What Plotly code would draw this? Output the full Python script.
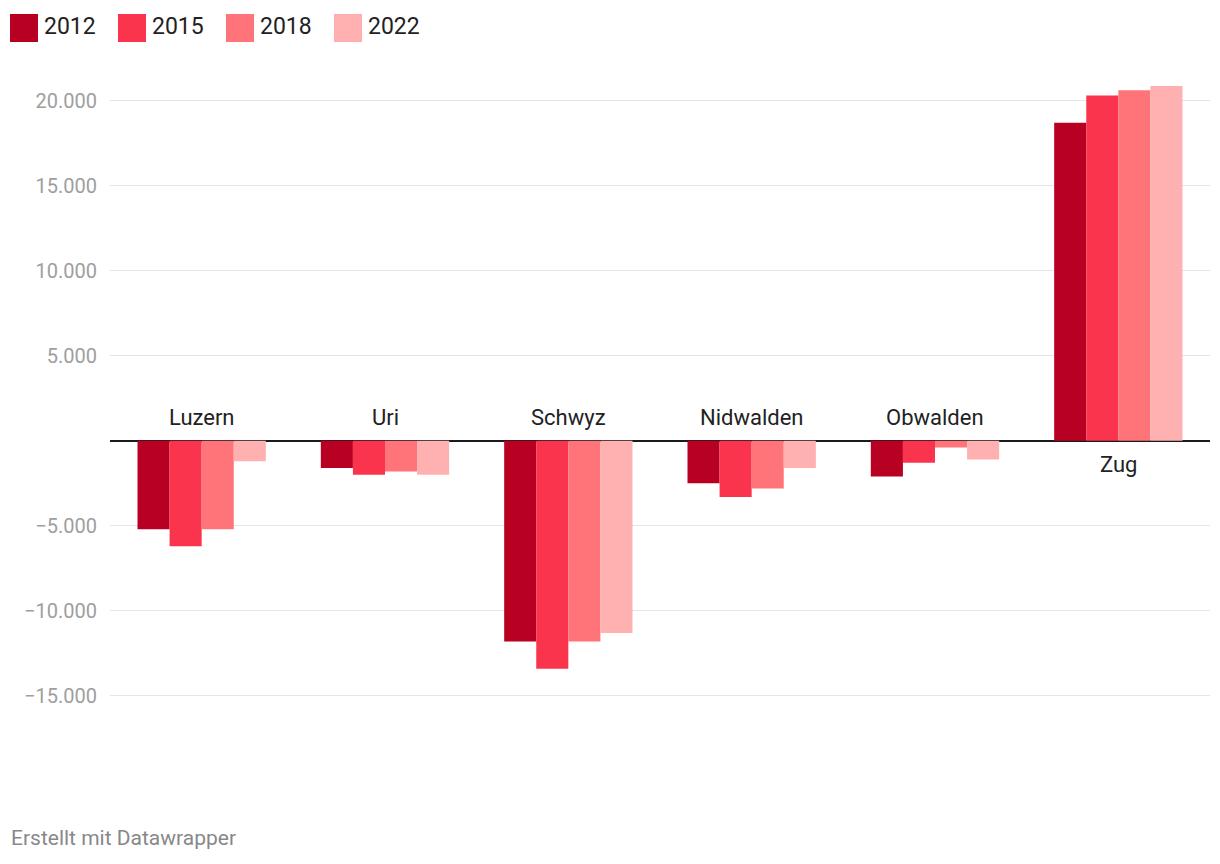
import plotly.graph_objects as go

categories = ["Luzern", "Uri", "Schwyz", "Nidwalden", "Obwalden", "Zug"]
years = ["2012", "2015", "2018", "2022"]
v2012 = [-5200, -1600, -11800, -2500, -2100, 18700]
v2015 = [-6200, -2000, -13400, -3300, -1300, 20300]
v2018 = [-5200, -1800, -11800, -2800, -400, 20600]
v2022 = [-1200, -2000, -11300, -1600, -1100, 20850]
colors = ["#b80022", "#fa344d", "#ff7479", "#ffb0b0"]
tick_vals = [-15000, -10000, -5000, 5000, 10000, 15000, 20000]

series = [v2012, v2015, v2018, v2022]

W, H = 1220, 864
ML, MR, MT, MB = 110, 10, 75, 83
PW = W - ML - MR
PH = H - MT - MB

fig = go.Figure()
for name, vals, col in zip(years, series, colors):
    fig.add_trace(go.Bar(x=categories, y=vals, name=name, marker_color=col,
                         marker_line_width=0, showlegend=False,
                         hovertemplate="%{x}: %{y:,}<extra>" + name + "</extra>"))

def px_x(p):
    return (p - ML) / PW

def px_y(p):
    return 1 - (p - MT) / PH

annotations = []
shapes = []
# custom legend
leg_x = [10, 118, 226, 334]
for lx, name, col in zip(leg_x, years, colors):
    shapes.append(dict(type="rect", xref="paper", yref="paper",
                       x0=px_x(lx), x1=px_x(lx + 28), y0=px_y(42), y1=px_y(14),
                       fillcolor=col, line_width=0))
    annotations.append(dict(text=name, xref="paper", yref="paper",
                            x=px_x(lx + 32), y=px_y(27), xanchor="left", yanchor="middle",
                            showarrow=False, font=dict(size=23, color="#222222")))

# category labels
for i, cat in enumerate(categories):
    total = sum(s[i] for s in series)
    if total < 0:
        annotations.append(dict(text=cat, x=cat, y=0, xref="x", yref="y",
                                yanchor="bottom", yshift=9, showarrow=False,
                                font=dict(size=22, color="#222222")))
    else:
        annotations.append(dict(text=cat, x=cat, y=0, xref="x", yref="y",
                                yanchor="top", yshift=-9, showarrow=False,
                                font=dict(size=22, color="#222222")))

annotations.append(dict(text="Erstellt mit Datawrapper", xref="paper", yref="paper",
                        x=px_x(9), y=px_y(838), xanchor="left", yanchor="middle",
                        showarrow=False, font=dict(size=21, color="#888888")))

fig.update_layout(
    width=W, height=H,
    margin=dict(l=ML, r=MR, t=MT, b=MB),
    paper_bgcolor="white", plot_bgcolor="white",
    font=dict(family="Roboto", color="#222222"),
    separators=",.",
    barmode="group", bargap=0.3, bargroupgap=0,
    xaxis=dict(showticklabels=False, showgrid=False, zeroline=False, showline=False,
               ticks="", range=[-0.5, len(categories) - 0.5], fixedrange=True),
    yaxis=dict(range=[-20000, 21500], tickvals=tick_vals, tickformat=",d",
               showgrid=True, gridcolor="#e5e5e5", gridwidth=1,
               zeroline=True, zerolinecolor="#1a1a1a", zerolinewidth=2,
               showline=False, ticks="", ticklabelstandoff=12,
               tickfont=dict(size=20, color="#9e9e9e"), fixedrange=True),
    shapes=shapes, annotations=annotations,
)

fig.write_html("out.html")
